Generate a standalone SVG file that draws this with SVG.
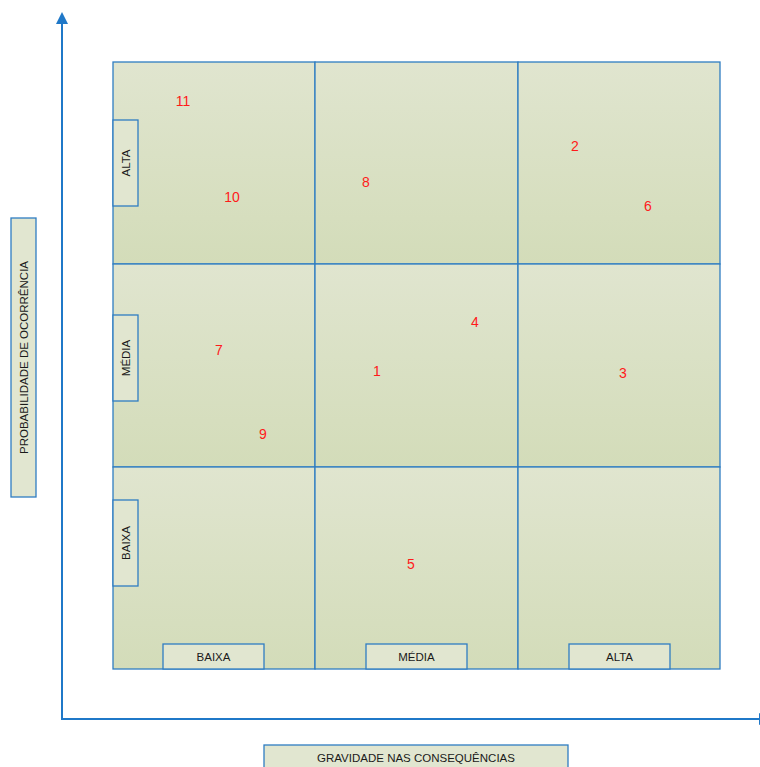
<svg xmlns="http://www.w3.org/2000/svg" width="760" height="767" viewBox="0 0 760 767">
<style>
.cell{fill:url(#g);stroke:#2e7dc2;stroke-width:1.3}
.lab{fill:#e1e6d0;stroke:#2e7dc2;stroke-width:1.3}
.t{font-family:"Liberation Sans","DejaVu Sans",sans-serif;font-size:11.5px;fill:#1a1a1a;text-anchor:middle;dominant-baseline:central}
.n{font-family:"Liberation Sans","DejaVu Sans",sans-serif;font-size:14px;fill:#ff1a1a;text-anchor:middle;dominant-baseline:central}
.ax{stroke:#1f78c8;stroke-width:2;fill:none}
</style>
<defs>
<linearGradient id="g" x1="0" y1="0" x2="0" y2="1">
<stop offset="0" stop-color="#e0e5cf"/>
<stop offset="1" stop-color="#d3dcb9"/>
</linearGradient>
<marker id="ah" markerWidth="12" markerHeight="12" viewBox="0 0 12 12" refX="0" refY="6" orient="auto" markerUnits="userSpaceOnUse">
<path d="M0,0 L12,6 L0,12 z" fill="#1f78c8"/>
</marker>
</defs>
<g id="connectors">
<line class="ax" x1="62" y1="720" x2="62" y2="24" marker-end="url(#ah)"/>
<line class="ax" x1="62" y1="719" x2="759" y2="719" marker-end="url(#ah)"/>
</g>
<g id="grid">
<rect id="c11" class="cell" x="113" y="62" width="202" height="202"/>
<rect id="c12" class="cell" x="315" y="62" width="203" height="202"/>
<rect id="c13" class="cell" x="518" y="62" width="202" height="202"/>
<rect id="c21" class="cell" x="113" y="264" width="202" height="203"/>
<rect id="c22" class="cell" x="315" y="264" width="203" height="203"/>
<rect id="c23" class="cell" x="518" y="264" width="202" height="203"/>
<rect id="c31" class="cell" x="113" y="467" width="202" height="202"/>
<rect id="c32" class="cell" x="315" y="467" width="203" height="202"/>
<rect id="c33" class="cell" x="518" y="467" width="202" height="202"/>
</g>
<g id="row-alta"><rect class="lab" x="113" y="120" width="25" height="86"/><text class="t" transform="translate(126,163) rotate(-90)">ALTA</text></g>
<g id="row-media"><rect class="lab" x="113" y="315" width="25" height="86"/><text class="t" transform="translate(126,358) rotate(-90)">MÉDIA</text></g>
<g id="row-baixa"><rect class="lab" x="113" y="500" width="25" height="86"/><text class="t" transform="translate(126,543) rotate(-90)">BAIXA</text></g>
<g id="col-baixa"><rect class="lab" x="163" y="644" width="101" height="25"/><text class="t" x="213.5" y="657">BAIXA</text></g>
<g id="col-media"><rect class="lab" x="366" y="644" width="101" height="25"/><text class="t" x="416.5" y="657">MÉDIA</text></g>
<g id="col-alta"><rect class="lab" x="569" y="644" width="101" height="25"/><text class="t" x="619.5" y="657">ALTA</text></g>
<g id="y-label"><rect class="lab" x="11" y="218" width="25" height="279"/><text class="t" transform="translate(24,357.5) rotate(-90)">PROBABILIDADE DE OCORRÊNCIA</text></g>
<g id="x-label"><rect class="lab" x="264" y="745" width="304" height="26"/><text class="t" x="416" y="758">GRAVIDADE NAS CONSEQUÊNCIAS</text></g>
<g id="numbers">
<text class="n" x="183" y="101">11</text>
<text class="n" x="232" y="197">10</text>
<text class="n" x="366" y="182">8</text>
<text class="n" x="575" y="146">2</text>
<text class="n" x="648" y="206">6</text>
<text class="n" x="219" y="350">7</text>
<text class="n" x="263" y="434">9</text>
<text class="n" x="475" y="322">4</text>
<text class="n" x="377" y="371">1</text>
<text class="n" x="623" y="373">3</text>
<text class="n" x="411" y="564">5</text>
</g>
</svg>
